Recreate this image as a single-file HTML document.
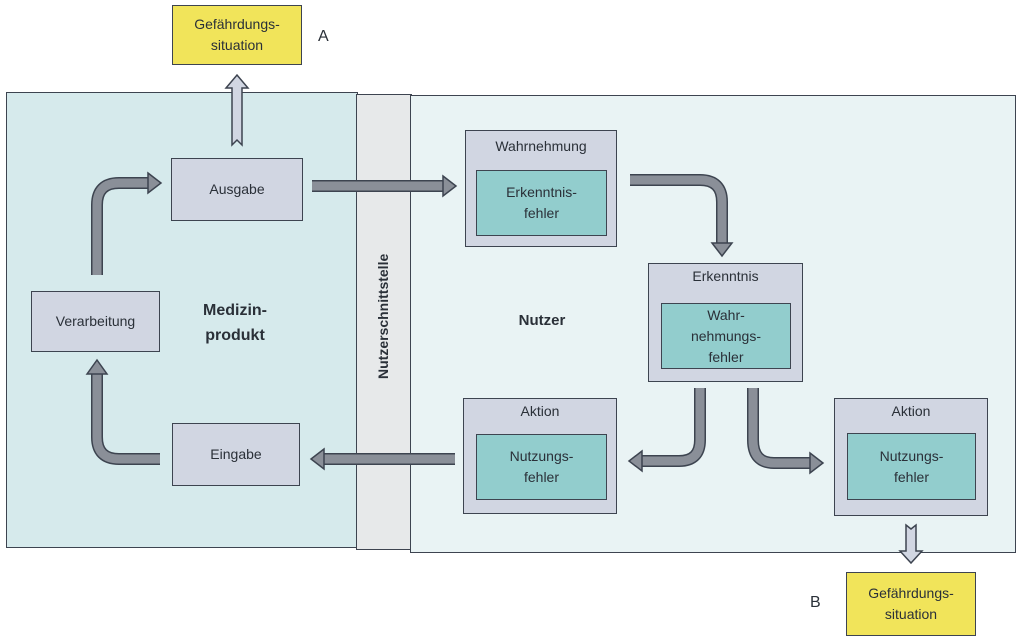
<!DOCTYPE html>
<html><head><meta charset="utf-8"><style>
body{margin:0;width:1024px;height:640px;background:#fff;position:relative;overflow:hidden;font-family:"Liberation Sans",sans-serif;color:#2a3038}
.b{position:absolute;box-sizing:border-box;border:1.5px solid #3d4450;}
.g{background:#d1d6e2}
.t{background:#92cdcd}
.y{background:#f1e45a}
.c{display:flex;align-items:center;justify-content:center;text-align:center;font-size:14px;line-height:21px}
.lbl{position:absolute;font-size:14px;text-align:center}
</style></head><body>
<div class="b" style="left:6px;top:92px;width:352px;height:456px;background:#d6eaec"></div>
<div class="b" style="left:356px;top:94px;width:56px;height:456px;background:#e7e9ea"></div>
<div class="b" style="left:410px;top:95px;width:606px;height:458px;background:#e9f3f4"></div>

<div class="b y c" style="left:172px;top:5px;width:130px;height:60px">Gefährdungs-<br>situation</div>
<div class="lbl" style="left:318px;top:28px;font-size:16px">A</div>
<div class="b y c" style="left:846px;top:572px;width:130px;height:64px">Gefährdungs-<br>situation</div>
<div class="lbl" style="left:810px;top:594px;font-size:16px">B</div>

<div class="b g c" style="left:171px;top:158px;width:132px;height:63px">Ausgabe</div>
<div class="b g c" style="left:31px;top:291px;width:129px;height:61px">Verarbeitung</div>
<div class="b g c" style="left:172px;top:423px;width:128px;height:63px">Eingabe</div>
<div class="lbl" style="left:190px;top:298px;width:90px;font-weight:bold;font-size:16px;line-height:25px">Medizin-<br>produkt</div>
<div class="lbl" style="left:500px;top:312px;width:84px;font-weight:bold;font-size:15px">Nutzer</div>
<div class="lbl" style="left:323px;top:311px;width:120px;font-weight:bold;font-size:14px;transform:rotate(-90deg)">Nutzerschnittstelle</div>

<div class="b g" style="left:465px;top:130px;width:152px;height:117px"><div class="lbl" style="left:0;right:0;top:7px">Wahrnehmung</div></div>
<div class="b t c" style="left:476px;top:170px;width:131px;height:66px">Erkenntnis-<br>fehler</div>
<div class="b g" style="left:648px;top:263px;width:155px;height:119px"><div class="lbl" style="left:0;right:0;top:4px">Erkenntnis</div></div>
<div class="b t c" style="left:661px;top:303px;width:130px;height:66px">Wahr-<br>nehmungs-<br>fehler</div>
<div class="b g" style="left:463px;top:398px;width:154px;height:116px"><div class="lbl" style="left:0;right:0;top:4px">Aktion</div></div>
<div class="b t c" style="left:476px;top:434px;width:131px;height:66px">Nutzungs-<br>fehler</div>
<div class="b g" style="left:834px;top:398px;width:154px;height:118px"><div class="lbl" style="left:0;right:0;top:4px">Aktion</div></div>
<div class="b t c" style="left:847px;top:433px;width:129px;height:67px">Nutzungs-<br>fehler</div>

<svg width="1024" height="640" style="position:absolute;left:0;top:0">
<g fill="none" stroke-linejoin="round">
<g stroke="#3d4450" stroke-width="12">
<path d="M97 275 V205 Q97 183 119 183 H150"/>
<path d="M160 459 H119 Q97 459 97 437 V372"/>
<path d="M312 186 H445"/>
<path d="M455 459 H322"/>
<path d="M630 180 H700 Q722 180 722 202 V245"/>
<path d="M700 388 V440 Q700 461 679 461 H640"/>
<path d="M753 388 V440 Q753 463 774 463 H812"/>
</g>
<g stroke="#8a8f98" stroke-width="9">
<path d="M97 275 V205 Q97 183 119 183 H150"/>
<path d="M160 459 H119 Q97 459 97 437 V372"/>
<path d="M312 186 H445"/>
<path d="M455 459 H322"/>
<path d="M630 180 H700 Q722 180 722 202 V245"/>
<path d="M700 388 V440 Q700 461 679 461 H640"/>
<path d="M753 388 V440 Q753 463 774 463 H812"/>
</g>
</g>
<g fill="#8a8f98" stroke="#3d4450" stroke-width="1.5">
<polygon points="148,173 161,183 148,193"/>
<polygon points="87,374 97,360 107,374"/>
<polygon points="443,176 456,186 443,196"/>
<polygon points="324,449 311,459 324,469"/>
<polygon points="712,243 722,256 732,243"/>
<polygon points="642,451 629,461 642,471"/>
<polygon points="810,453 823,463 810,473"/>
</g>
<g fill="#d1d6e2" stroke="#3d4450" stroke-width="1.5">
<polygon points="232,145 232,88 226,88 237,75 248,88 242,88 242,145 237,140"/>
<polygon points="906,525 911,529 916,525 916,551 922,551 911,563 900,551 906,551"/>
</g>
</svg>
</body></html>
